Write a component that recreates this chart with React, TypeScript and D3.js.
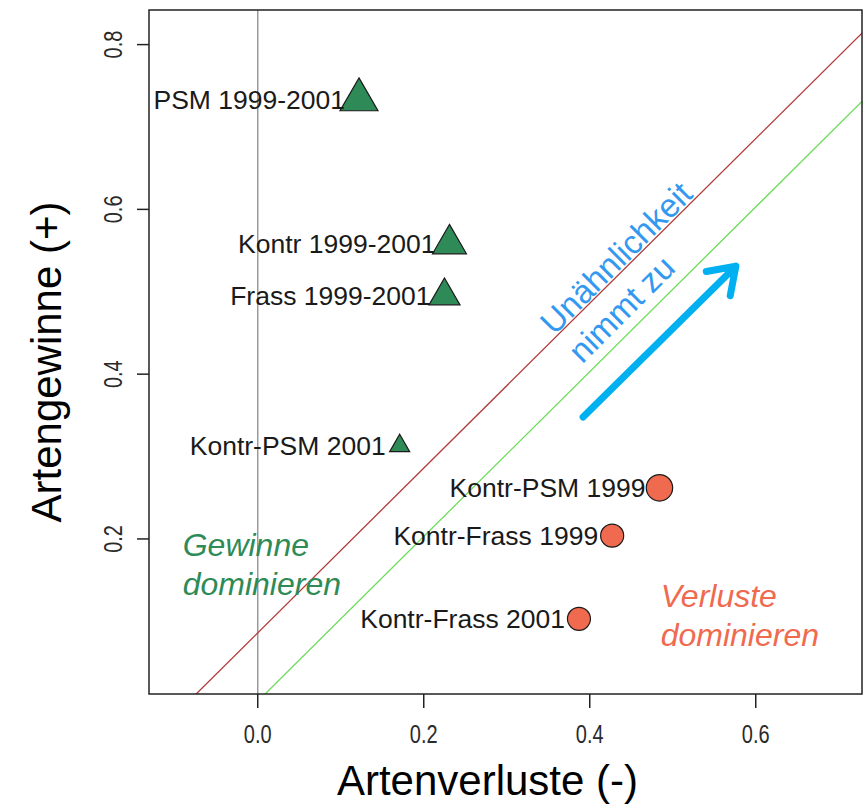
import React, { useEffect, useRef } from "react";
import * as d3 from "d3";

// comparisons, losses (x) vs gains (y) of species
const labels = [
  "PSM 1999-2001",
  "Kontr 1999-2001",
  "Frass 1999-2001",
  "Kontr-PSM 2001",
  "Kontr-PSM 1999",
  "Kontr-Frass 1999",
  "Kontr-Frass 2001",
];
const losses = [0.122, 0.231, 0.225, 0.171, 0.484, 0.427, 0.387];
const gains = [0.733, 0.558, 0.495, 0.313, 0.262, 0.204, 0.103];
const weights = [2.35, 2.1, 1.92, 1.24, 2.2, 1.92, 1.92];

const xTicks = [0, 0.2, 0.4, 0.6];
const yTicks = [0.2, 0.4, 0.6, 0.8];
const lineIntercepts = [0.086, 0.003]; // y = x + b
const arrowFrom = [0.392, 0.348];
const arrowTo = [0.576, 0.531];

const App = () => {
  const ref = useRef<SVGSVGElement>(null);

  useEffect(() => {
    const svg = d3.select(ref.current);
    svg.selectAll("*").remove();

    const left = 149, right = 862, top = 10, bottom = 694;
    const x = d3.scaleLinear().domain([-0.131, 0.728]).range([left, right]);
    const y = d3.scaleLinear().domain([0.0118, 0.842]).range([bottom, top]);
    const font = "'Liberation Sans', Arial, sans-serif";
    const green = "#2e8b57";
    const orange = "#ef6a4f";

    svg.append("clipPath").attr("id", "plotclip")
      .append("rect")
      .attr("x", left).attr("y", top)
      .attr("width", right - left).attr("height", bottom - top);

    // vertical line at 0
    svg.append("line")
      .attr("x1", x(0)).attr("x2", x(0))
      .attr("y1", top).attr("y2", bottom)
      .attr("stroke", "#9a9a9a").attr("stroke-width", 1.5);

    // reference lines
    const lineColors = ["#b23a3a", "#6ddc5a"];
    svg.append("g").attr("clip-path", "url(#plotclip)")
      .selectAll("line")
      .data(lineIntercepts)
      .join("line")
      .attr("x1", x(-0.2)).attr("y1", d => y(-0.2 + d))
      .attr("x2", x(0.8)).attr("y2", d => y(0.8 + d))
      .attr("stroke", (d, i) => lineColors[i])
      .attr("stroke-width", 1.3);

    // frame
    svg.append("rect")
      .attr("x", left).attr("y", top)
      .attr("width", right - left).attr("height", bottom - top)
      .attr("fill", "none").attr("stroke", "#222").attr("stroke-width", 1.5);

    // ticks
    svg.append("g").selectAll("line").data(xTicks).join("line")
      .attr("x1", d => x(d)).attr("x2", d => x(d))
      .attr("y1", bottom).attr("y2", bottom + 14)
      .attr("stroke", "#222").attr("stroke-width", 1.5);
    svg.append("g").selectAll("text").data(xTicks).join("text")
      .attr("transform", d => `translate(${x(d)},743) scale(0.8,1)`)
      .attr("text-anchor", "middle")
      .attr("font-family", font).attr("font-size", 25).attr("fill", "#2a2a2a")
      .text(d => d3.format(".1f")(d));

    svg.append("g").selectAll("line").data(yTicks).join("line")
      .attr("x1", left - 12).attr("x2", left)
      .attr("y1", d => y(d)).attr("y2", d => y(d))
      .attr("stroke", "#222").attr("stroke-width", 1.5);
    svg.append("g").selectAll("text").data(yTicks).join("text")
      .attr("transform", d => `translate(122,${y(d)}) rotate(-90) scale(0.8,1)`)
      .attr("text-anchor", "middle")
      .attr("font-family", font).attr("font-size", 25).attr("fill", "#2a2a2a")
      .text(d => d3.format(".1f")(d));

    // axis titles
    svg.append("text")
      .attr("x", (left + right) / 2 - 18).attr("y", 795)
      .attr("text-anchor", "middle")
      .attr("font-family", font).attr("font-size", 42).attr("fill", "#000")
      .text("Artenverluste (-)");
    svg.append("text")
      .attr("transform", `translate(61,${(top + bottom) / 2 + 10}) rotate(-90)`)
      .attr("text-anchor", "middle")
      .attr("font-family", font).attr("font-size", 42).attr("fill", "#000")
      .text("Artengewinne (+)");

    // points
    const pts = labels.map((label, i) => ({
      label, x: losses[i], y: gains[i], w: weights[i], gain: gains[i] > losses[i],
    }));
    const unit = 16;
    const g = svg.append("g");
    pts.forEach(p => {
      const cx = x(p.x), cy = y(p.y);
      if (p.gain) {
        const side = 1.01 * p.w * unit;
        const area = (side * side * Math.sqrt(3)) / 4;
        g.append("path")
          .attr("transform", `translate(${cx},${cy})`)
          .attr("d", d3.symbol(d3.symbolTriangle, area)())
          .attr("fill", green).attr("stroke", "#1a1a1a").attr("stroke-width", 1.2);
      } else {
        g.append("circle")
          .attr("cx", cx).attr("cy", cy).attr("r", 0.375 * p.w * unit)
          .attr("fill", orange).attr("stroke", "#1a1a1a").attr("stroke-width", 1.2);
      }
      g.append("text")
        .attr("x", cx - 14).attr("y", cy)
        .attr("dy", "0.35em")
        .attr("text-anchor", "end")
        .attr("font-family", font).attr("font-size", 26.5).attr("fill", "#1a1a1a")
        .text(p.label);
    });

    // region annotations
    const note = (px: number, py: number, lines: string[], color: string) => {
      const t = svg.append("text")
        .attr("font-family", font).attr("font-size", 32)
        .attr("font-style", "italic").attr("fill", color);
      lines.forEach((l, i) => {
        t.append("tspan").attr("x", x(px)).attr("y", y(py) + i * 39).text(l);
      });
    };
    note(-0.0904, 0.1792, ["Gewinne", "dominieren"], green);
    note(0.4855, 0.1174, ["Verluste", "dominieren"], orange);

    // diagonal annotation
    const bx = x(0.357), by = y(0.4462);
    const blue = svg.append("text")
      .attr("transform", `translate(${bx},${by}) rotate(-45)`)
      .attr("font-family", font).attr("font-size", 33).attr("fill", "#3399f0");
    blue.append("tspan").attr("x", 0).attr("y", 0).text("Unähnlichkeit");
    blue.append("tspan").attr("x", 0).attr("y", 40).text("nimmt zu");

    // arrow
    const ax0 = x(arrowFrom[0]), ay0 = y(arrowFrom[1]);
    const ax1 = x(arrowTo[0]), ay1 = y(arrowTo[1]);
    const ang = Math.atan2(ay1 - ay0, ax1 - ax0);
    const head = 30, spread = Math.PI / 5.2;
    const h1 = [ax1 - head * Math.cos(ang - spread), ay1 - head * Math.sin(ang - spread)];
    const h2 = [ax1 - head * Math.cos(ang + spread), ay1 - head * Math.sin(ang + spread)];
    svg.append("path")
      .attr("d", `M${ax0},${ay0}L${ax1},${ay1}M${h1[0]},${h1[1]}L${ax1},${ay1}L${h2[0]},${h2[1]}`)
      .attr("fill", "none").attr("stroke", "#00b0f0")
      .attr("stroke-width", 7).attr("stroke-linecap", "round").attr("stroke-linejoin", "round");
  }, []);

  return (
    <svg
      ref={ref}
      width={868}
      height={804}
      style={{ position: "absolute", left: 0, top: 0, background: "#fff" }}
    />
  );
};

export default App;
